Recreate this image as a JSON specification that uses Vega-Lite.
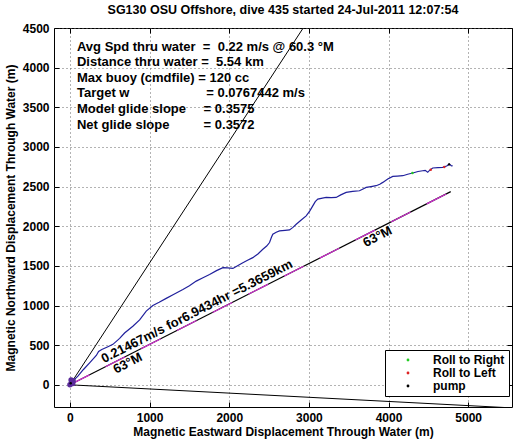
{
  "$schema": "https://vega.github.io/schema/vega-lite/v6.json",
  "width": 458,
  "height": 379,
  "autosize": {"type": "none"},
  "padding": {"left": 54, "top": 28, "right": 9, "bottom": 35},
  "background": "white",
  "title": {"text": "SG130 OSU Offshore, dive 435 started 24-Jul-2011 12:07:54", "font": "Liberation Sans", "fontSize": 12.5, "fontWeight": "bold", "color": "black", "offset": 6, "anchor": "middle"},
  "config": {
    "view": {"stroke": "black", "strokeWidth": 1},
    "font": "Liberation Sans",
    "axis": {
      "labelFont": "Liberation Sans", "labelFontSize": 12, "labelFontWeight": "bold", "labelColor": "black",
      "titleFont": "Liberation Sans", "titleFontSize": 12, "titleFontWeight": "bold", "titleColor": "black",
      "tickColor": "black", "tickSize": -5, "domain": false,
      "gridColor": "#666", "gridDash": [1, 3], "gridOpacity": 1, "gridWidth": 1,
      "labelPadding": 10
    }
  },
  "datasets": {
    "track": [
      {"x": 0, "y": 0}, {"x": 30, "y": 40}, {"x": 100, "y": 110}, {"x": 167, "y": 190}, {"x": 250, "y": 280},
      {"x": 331, "y": 370}, {"x": 360, "y": 420}, {"x": 400, "y": 445}, {"x": 477, "y": 480}, {"x": 540, "y": 510},
      {"x": 624, "y": 585}, {"x": 686, "y": 653}, {"x": 790, "y": 738}, {"x": 875, "y": 818}, {"x": 958, "y": 930},
      {"x": 1041, "y": 1000}, {"x": 1120, "y": 1040}, {"x": 1209, "y": 1090}, {"x": 1300, "y": 1140}, {"x": 1418, "y": 1203},
      {"x": 1500, "y": 1250}, {"x": 1586, "y": 1308}, {"x": 1670, "y": 1350}, {"x": 1753, "y": 1392}, {"x": 1840, "y": 1440},
      {"x": 1921, "y": 1477}, {"x": 1980, "y": 1475}, {"x": 2046, "y": 1468}, {"x": 2110, "y": 1505}, {"x": 2171, "y": 1540},
      {"x": 2230, "y": 1570}, {"x": 2296, "y": 1604}, {"x": 2360, "y": 1650}, {"x": 2422, "y": 1709}, {"x": 2470, "y": 1750},
      {"x": 2506, "y": 1794}, {"x": 2530, "y": 1860}, {"x": 2547, "y": 1899}, {"x": 2590, "y": 1925}, {"x": 2631, "y": 1941},
      {"x": 2700, "y": 1948}, {"x": 2757, "y": 1953}, {"x": 2800, "y": 1985}, {"x": 2841, "y": 2025}, {"x": 2900, "y": 2075},
      {"x": 2966, "y": 2131}, {"x": 3010, "y": 2190}, {"x": 3049, "y": 2257}, {"x": 3080, "y": 2310}, {"x": 3112, "y": 2342},
      {"x": 3170, "y": 2355}, {"x": 3217, "y": 2363}, {"x": 3280, "y": 2360}, {"x": 3342, "y": 2363}, {"x": 3400, "y": 2395},
      {"x": 3468, "y": 2427}, {"x": 3550, "y": 2440}, {"x": 3635, "y": 2447}, {"x": 3680, "y": 2470}, {"x": 3719, "y": 2490},
      {"x": 3780, "y": 2500}, {"x": 3844, "y": 2511}, {"x": 3890, "y": 2530}, {"x": 3928, "y": 2553}, {"x": 3990, "y": 2595},
      {"x": 4053, "y": 2629}, {"x": 4110, "y": 2632}, {"x": 4179, "y": 2637}, {"x": 4240, "y": 2655}, {"x": 4304, "y": 2671},
      {"x": 4370, "y": 2690}, {"x": 4429, "y": 2700}, {"x": 4460, "y": 2705}, {"x": 4492, "y": 2680}, {"x": 4520, "y": 2710},
      {"x": 4555, "y": 2734}, {"x": 4620, "y": 2740}, {"x": 4680, "y": 2743}, {"x": 4730, "y": 2760}, {"x": 4764, "y": 2785},
      {"x": 4790, "y": 2760}, {"x": 4806, "y": 2763}
    ],
    "rays": [
      {"s": "up", "x": 0, "y": 0}, {"s": "up", "x": 3000, "y": 4610},
      {"s": "down", "x": 0, "y": 0}, {"s": "down", "x": 5600, "y": -294}
    ],
    "net": [
      {"x": 0, "y": 0}, {"x": 4781, "y": 2436}
    ],
    "pts": [
      {"x": 10, "y": 20, "c": "pump"}, {"x": 4760, "y": 2780, "c": "pump"},
      {"x": 4530, "y": 2712, "c": "Roll to Left"}, {"x": 4700, "y": 2748, "c": "Roll to Left"},
      {"x": 4300, "y": 2670, "c": "Roll to Right"}
    ],
    "blob": [
      {"x": 0, "y": 0}, {"x": 20, "y": 30}, {"x": 40, "y": 50}, {"x": 15, "y": 60}, {"x": 35, "y": 15}
    ],
    "info": [
      {"x": 88, "y": 4265, "t": "Avg Spd thru water \u00a0= \u00a00.22 m/s @ 60.3 °M"},
      {"x": 88, "y": 4068, "t": "Distance thru water = \u00a05.54 km"},
      {"x": 88, "y": 3869, "t": "Max buoy (cmdfile) = 120 cc"},
      {"x": 88, "y": 3675, "t": "Target w"},
      {"x": 1711, "y": 3675, "t": "= 0.0767442 m/s"},
      {"x": 88, "y": 3477, "t": "Model glide slope"},
      {"x": 1678, "y": 3477, "t": "= 0.3575"},
      {"x": 88, "y": 3278, "t": "Net glide slope"},
      {"x": 1678, "y": 3278, "t": "= 0.3572"}
    ],
    "above": [
      {"x": 1640, "y": 836, "t": "0.21467m/s for6.9434hr =5.3659km"}
    ],
    "below": [
      {"x": 686, "y": 350, "t": "63°M"},
      {"x": 3822, "y": 1947, "t": "63°M"}
    ]
  },
  "layer": [
    {
      "data": {"name": "rays"},
      "mark": {"type": "line", "color": "black", "strokeWidth": 1, "clip": true},
      "encoding": {
        "x": {"field": "x", "type": "quantitative", "scale": {"domain": [-200, 5550], "nice": false, "zero": false},
              "axis": {"orient": "bottom", "values": [0, 1000, 2000, 3000, 4000, 5000], "title": "Magnetic Eastward Displacement Through Water (m)", "titlePadding": 3, "labelPadding": 10, "format": "d"}},
        "y": {"field": "y", "type": "quantitative", "scale": {"domain": [-280, 4500], "nice": false, "zero": false},
              "axis": {"orient": "left", "values": [0, 500, 1000, 1500, 2000, 2500, 3000, 3500, 4000, 4500], "title": "Magnetic Northward Displacement Through Water (m)", "titlePadding": 5, "format": "d"}},
        "detail": {"field": "s"}
      }
    },
    {
      "data": {"name": "track"},
      "mark": {"type": "line", "color": "#20209c", "strokeWidth": 1.2, "clip": true},
      "encoding": {
        "x": {"field": "x", "type": "quantitative", "axis": {"orient": "top", "labels": false, "grid": false, "title": null, "values": [0, 1000, 2000, 3000, 4000, 5000]}},
        "y": {"field": "y", "type": "quantitative", "axis": {"orient": "right", "labels": false, "grid": false, "title": null, "values": [0, 500, 1000, 1500, 2000, 2500, 3000, 3500, 4000, 4500]}}
      }
    },
    {
      "data": {"name": "net"},
      "mark": {"type": "line", "color": "black", "strokeWidth": 1.2, "clip": true},
      "encoding": {
        "x": {"field": "x", "type": "quantitative", "axis": null},
        "y": {"field": "y", "type": "quantitative", "axis": null}
      }
    },
    {
      "data": {"name": "net"},
      "mark": {"type": "line", "color": "#d030d0", "strokeWidth": 1.2, "strokeDash": [22, 18], "clip": true},
      "encoding": {
        "x": {"field": "x", "type": "quantitative", "axis": null},
        "y": {"field": "y", "type": "quantitative", "axis": null}
      }
    },
    {
      "data": {"name": "blob"},
      "mark": {"type": "circle", "color": "#5a2a9a", "size": 30, "opacity": 1},
      "encoding": {
        "x": {"field": "x", "type": "quantitative", "axis": null},
        "y": {"field": "y", "type": "quantitative", "axis": null}
      }
    },
    {
      "data": {"name": "pts"},
      "mark": {"type": "circle", "size": 6, "opacity": 1},
      "encoding": {
        "x": {"field": "x", "type": "quantitative", "axis": null},
        "y": {"field": "y", "type": "quantitative", "axis": null},
        "color": {"field": "c", "type": "nominal",
                  "scale": {"domain": ["Roll to Right", "Roll to Left", "pump"], "range": ["#22cc22", "#dd2222", "#000000"]},
                  "legend": {"title": null, "orient": "none", "legendX": 331, "legendY": 322,
                             "strokeColor": "black", "fillColor": "white", "padding": 4,
                             "labelFont": "Liberation Sans", "labelFontSize": 12, "labelFontWeight": "bold", "labelColor": "black",
                             "symbolType": "circle", "symbolSize": 8, "symbolStrokeWidth": 0, "symbolOffset": 13, "labelOffset": 19, "rowPadding": 1,
                             "labelLimit": 200}}
      }
    },
    {
      "data": {"name": "info"},
      "mark": {"type": "text", "align": "left", "baseline": "middle", "font": "Liberation Sans", "fontSize": 13, "fontWeight": "bold", "color": "black"},
      "encoding": {
        "x": {"field": "x", "type": "quantitative", "axis": null},
        "y": {"field": "y", "type": "quantitative", "axis": null},
        "text": {"field": "t"}
      }
    },
    {
      "data": {"name": "above"},
      "mark": {"type": "text", "align": "center", "baseline": "bottom", "angle": 333, "dy": -1, "font": "Liberation Sans", "fontSize": 13, "fontWeight": "bold", "color": "black"},
      "encoding": {
        "x": {"field": "x", "type": "quantitative", "axis": null},
        "y": {"field": "y", "type": "quantitative", "axis": null},
        "text": {"field": "t"}
      }
    },
    {
      "data": {"name": "below"},
      "mark": {"type": "text", "align": "center", "baseline": "top", "angle": 333, "dy": 1, "font": "Liberation Sans", "fontSize": 13, "fontWeight": "bold", "color": "black"},
      "encoding": {
        "x": {"field": "x", "type": "quantitative", "axis": null},
        "y": {"field": "y", "type": "quantitative", "axis": null},
        "text": {"field": "t"}
      }
    }
  ],
  "resolve": {"axis": {"x": "independent", "y": "independent"}}
}
